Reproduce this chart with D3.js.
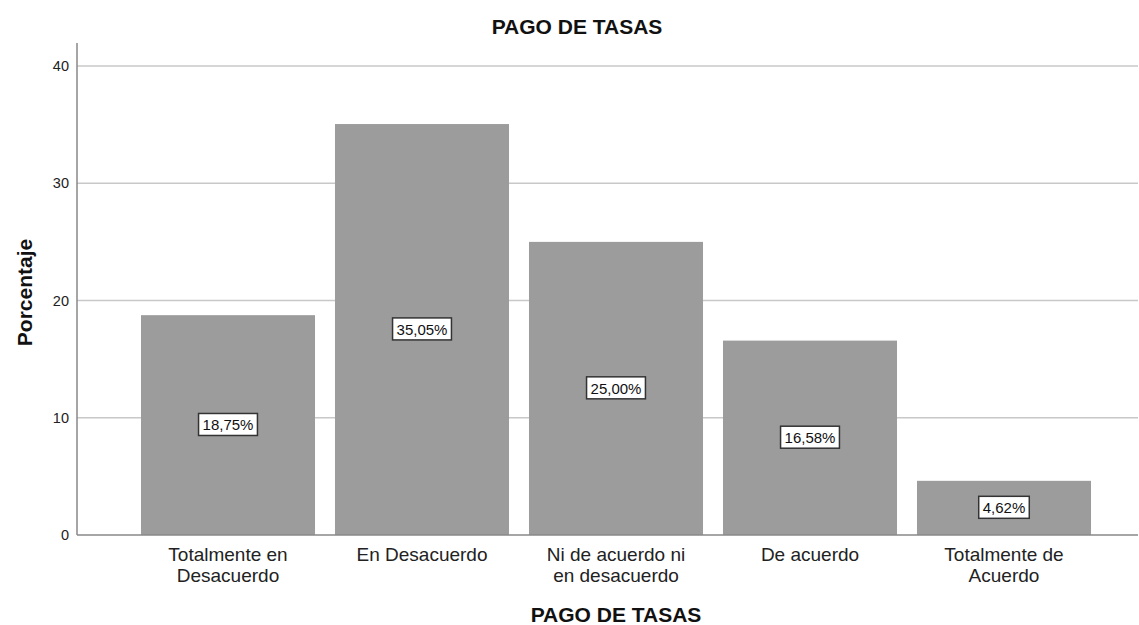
<!DOCTYPE html>
<html>
<head>
<meta charset="utf-8">
<script src="https://cdn.jsdelivr.net/npm/d3@7"></script>
<style>
  body { margin: 0; background: #fff; }
  text { font-family: Arial, "Liberation Sans", sans-serif; }
</style>
</head>
<body>
<div id="chart"></div>
<script>
// chart data
var categories = [["Totalmente en", "Desacuerdo"], ["En Desacuerdo"], ["Ni de acuerdo ni", "en desacuerdo"], ["De acuerdo"], ["Totalmente de", "Acuerdo"]];
var percents = [18.75, 35.05, 25.00, 16.58, 4.62];
var yTicks = [0, 10, 20, 30, 40];
var chartTitle = "PAGO DE TASAS";
var xTitle = "PAGO DE TASAS";
var yTitle = "Porcentaje";

var width = 1139, height = 625;
var plotLeft = 77, plotRight = 1138, plotTop = 43, plotBottom = 535;

var svg = d3.select("#chart").append("svg")
  .attr("width", width)
  .attr("height", height);

var keys = categories.map(function(d) { return d.join(" "); });

var x = d3.scaleBand()
  .domain(keys)
  .range([131, 1101])
  .paddingInner(0.103)
  .paddingOuter(0.0515);

var y = d3.scaleLinear()
  .domain([0, 40])
  .range([plotBottom, 66]);

// gridlines
svg.append("g")
  .selectAll("line")
  .data(yTicks.filter(function(t) { return t > 0; }))
  .enter().append("line")
  .attr("x1", plotLeft).attr("x2", plotRight)
  .attr("y1", function(d) { return y(d); })
  .attr("y2", function(d) { return y(d); })
  .attr("stroke", "#c8c8c8")
  .attr("stroke-width", 1.3);

// bars
svg.append("g")
  .selectAll("rect")
  .data(percents)
  .enter().append("rect")
  .attr("x", function(d, i) { return x(keys[i]); })
  .attr("y", function(d) { return y(d); })
  .attr("width", x.bandwidth())
  .attr("height", function(d) { return y(0) - y(d); })
  .attr("fill", "#9c9c9c");

// y axis
var yAxis = svg.append("g")
  .attr("transform", "translate(" + plotLeft + ",0)")
  .call(d3.axisLeft(y).tickValues(yTicks).tickSize(0).tickPadding(8));
yAxis.select(".domain").remove();
yAxis.selectAll("text")
  .attr("font-size", 14.5)
  .attr("fill", "#222")
  .style("font-family", "Arial, 'Liberation Sans', sans-serif");

// axis lines
svg.append("line")
  .attr("x1", plotLeft).attr("x2", plotLeft)
  .attr("y1", plotTop).attr("y2", plotBottom)
  .attr("stroke", "#888").attr("stroke-width", 1.5);
svg.append("line")
  .attr("x1", plotLeft).attr("x2", plotRight)
  .attr("y1", plotBottom).attr("y2", plotBottom)
  .attr("stroke", "#888").attr("stroke-width", 1.5);

// value labels
var labels = svg.append("g")
  .selectAll("g")
  .data(percents)
  .enter().append("g")
  .attr("transform", function(d, i) {
    return "translate(" + (x(keys[i]) + x.bandwidth() / 2) + "," + ((y(d) + y(0)) / 2) + ")";
  });

labels.append("text")
  .attr("text-anchor", "middle")
  .attr("dy", "0.36em")
  .attr("font-size", 15)
  .attr("fill", "#111")
  .text(function(d) { return d.toFixed(2).replace(".", ",") + "%"; })
  .each(function() {
    var bb = this.getBBox();
    d3.select(this.parentNode).insert("rect", "text")
      .attr("x", bb.x - 4)
      .attr("y", bb.y - 3)
      .attr("width", bb.width + 8)
      .attr("height", bb.height + 5)
      .attr("fill", "#fff")
      .attr("stroke", "#333")
      .attr("stroke-width", 1.5);
  });

// category labels
var cat = svg.append("g")
  .selectAll("text")
  .data(categories)
  .enter().append("text")
  .attr("text-anchor", "middle")
  .attr("font-size", 19)
  .attr("fill", "#222")
  .attr("x", function(d, i) { return x(keys[i]) + x.bandwidth() / 2; })
  .attr("y", 561);
cat.selectAll("tspan")
  .data(function(d) { return d; })
  .enter().append("tspan")
  .attr("x", function() { return d3.select(this.parentNode).attr("x"); })
  .attr("dy", function(d, i) { return i === 0 ? 0 : 21; })
  .text(function(d) { return d; });

// titles
svg.append("text")
  .attr("x", 577).attr("y", 33.5)
  .attr("text-anchor", "middle")
  .attr("font-size", 21)
  .attr("font-weight", "bold")
  .attr("fill", "#111")
  .text(chartTitle);

svg.append("text")
  .attr("x", 616).attr("y", 621.5)
  .attr("text-anchor", "middle")
  .attr("font-size", 21)
  .attr("font-weight", "bold")
  .attr("fill", "#111")
  .text(xTitle);

svg.append("text")
  .attr("transform", "translate(31.5,292.5) rotate(-90)")
  .attr("text-anchor", "middle")
  .attr("font-size", 21)
  .attr("font-weight", "bold")
  .attr("fill", "#111")
  .text(yTitle);
</script>
</body>
</html>
